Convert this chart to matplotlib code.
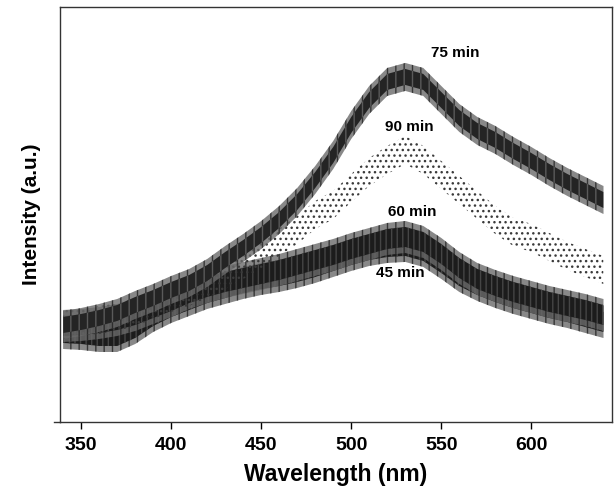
import numpy as np
import matplotlib.pyplot as plt

plt.rcParams['font.family'] = ['Liberation Sans', 'DejaVu Sans']
plt.rcParams['font.weight'] = 'bold'
plt.rcParams['hatch.linewidth'] = 1.0

# wavelength grid (nm) and intensities (a.u.)
wavelength = np.arange(340, 641, 10)
i_75 = [97, 100, 104, 109, 117, 124, 132, 139, 149, 162, 174, 187, 202, 220, 242, 267,
        297, 322, 340, 345, 340, 322, 304, 291, 282, 271, 261, 250, 240, 231, 222]
i_90 = [97, 100, 102, 105, 110, 117, 124, 130, 138, 147, 157, 167, 180, 192, 207, 217,
        234, 250, 262, 272, 262, 247, 232, 217, 202, 190, 184, 175, 166, 159, 152]
i_60 = [96, 97, 99, 102, 107, 114, 121, 129, 135, 140, 144, 148, 152, 157, 162, 167,
        173, 178, 183, 185, 180, 168, 154, 143, 136, 130, 125, 120, 116, 112, 107]
i_45 = [89, 88, 86, 86, 94, 106, 115, 122, 129, 134, 139, 143, 146, 150, 155, 161,
        167, 172, 175, 176, 171, 159, 146, 137, 130, 124, 119, 114, 110, 105, 100]
# half spread of the noise band of each spectrum
noise_75 = 8
noise_90 = 14
noise_60 = 10
noise_45 = 10
# extra reach of the tallest noise spikes
spike = 6

labels = ['75 min', '90 min', '60 min', '45 min']
label_pos = [(558, 369), (532, 295), (534, 210), (527, 149)]

fig = plt.figure(figsize=(6.16, 4.95), dpi=100)
ax = fig.add_axes([0.0974, 0.1475, 0.896, 0.8385])

wl = wavelength

# solid spectra: greyish fringe for the spikes, dark core band
for vals, noise in [(i_45, noise_45), (i_60, noise_60)]:
    v = np.array(vals)
    ax.fill_between(wl, v - noise - spike, v + noise + spike, facecolor='#6a6a6a',
                    edgecolor='#222222', hatch='||', lw=0, alpha=0.8)
    ax.fill_between(wl, v - noise, v + noise, facecolor='#1c1c1c',
                    edgecolor='#454545', hatch='|||', lw=0)

v = np.array(i_90)
ax.fill_between(wl, v - noise_90, v + noise_90, facecolor='none',
                edgecolor='#3a3a3a', hatch='...', lw=0)

v = np.array(i_75)
ax.fill_between(wl, v - noise_75 - spike, v + noise_75 + spike, facecolor='#6a6a6a',
                edgecolor='#222222', hatch='||', lw=0, alpha=0.8)
ax.fill_between(wl, v - noise_75, v + noise_75, facecolor='#242424',
                edgecolor='#5a5a5a', hatch='||', lw=0)

for txt, (x, y) in zip(labels, label_pos):
    ax.text(x, y, txt, ha='center', va='center', fontsize=11, fontweight='bold')

ax.set_xlim(338.2, 644.8)
ax.set_ylim(0, 415)
ax.set_xticks([350, 400, 450, 500, 550, 600])
ax.set_yticks([])
ax.tick_params(axis='x', direction='out', length=5, width=1, labelsize=14, pad=6)
for s in ax.spines.values():
    s.set_linewidth(1.0)
    s.set_color('#333333')
ax.plot([-0.011, 0], [0, 0], transform=ax.transAxes, color='#333333', lw=1, clip_on=False)

ax.set_xlabel('Wavelength (nm)', fontsize=16.5, fontweight='bold', labelpad=6)
ax.set_ylabel('Intensity (a.u.)', fontsize=15, fontweight='bold', labelpad=14)

fig.savefig('out.png', dpi=100)
